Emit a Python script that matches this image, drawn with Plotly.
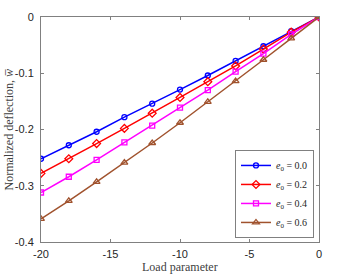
import plotly.graph_objects as go

load = [-20, -18, -16, -14, -12, -10, -8, -6, -4, -2, 0]
w_e00 = [-0.252, -0.228, -0.204, -0.178, -0.154, -0.129, -0.104, -0.078, -0.052, -0.025, 0.0]
w_e02 = [-0.278, -0.252, -0.225, -0.198, -0.171, -0.143, -0.115, -0.087, -0.057, -0.027, 0.0]
w_e04 = [-0.312, -0.284, -0.254, -0.223, -0.193, -0.161, -0.130, -0.097, -0.065, -0.031, 0.0]
w_e06 = [-0.359, -0.327, -0.293, -0.259, -0.224, -0.188, -0.151, -0.114, -0.076, -0.038, 0.0]
labels = ["0.0", "0.2", "0.4", "0.6"]
x_ticks = [-20, -15, -10, -5, 0]
x_ticklabels = ["-20", "-15", "-10", "-5", "0"]
y_ticks = [-0.4, -0.3, -0.2, -0.1, 0]
y_ticklabels = ["-0.4", "-0.3", "-0.2", "-0.1", "0"]
x_title = "Load parameter"
y_title = "Normalized deflection, <i>w\u0305</i>"

series = [w_e00, w_e02, w_e04, w_e06]
colors = ["#0000ff", "#ff0000", "#ff00ff", "#a0522d"]
symbols = ["circle-open", "diamond-open", "square-open", "triangle-up-open"]
sizes = [5, 6, 5, 6]

fig = go.Figure()
for ys, lab, c, s, sz in zip(series, labels, colors, symbols, sizes):
    fig.add_trace(go.Scatter(
        x=load, y=ys, mode="lines+markers",
        name=f"<i>e</i><sub>0</sub> = {lab}",
        line=dict(color=c, width=1.5),
        marker=dict(symbol=s, size=sz, color=c, line=dict(color=c, width=1.3)),
    ))

axis_common = dict(
    showline=True, linecolor="#808080", linewidth=1, mirror="ticks",
    ticks="inside", ticklen=3, tickcolor="#808080", showgrid=False, zeroline=False,
    automargin=False,
    tickfont=dict(family="Liberation Sans, Arial, sans-serif", size=11, color="#262626"),
)
title_font = dict(family="Liberation Serif, Times New Roman, serif", size=12, color="#404040")

fig.update_layout(
    width=341, height=280,
    margin=dict(l=41, r=22, t=17, b=38),
    paper_bgcolor="white", plot_bgcolor="white",
    showlegend=True,
    legend=dict(
        x=0.982, y=0.018, xanchor="right", yanchor="bottom",
        bgcolor="white", bordercolor="#808080", borderwidth=1,
        font=dict(family="Liberation Serif, Times New Roman, serif", size=10, color="#262626"),
        tracegroupgap=0, itemwidth=30,
    ),
    xaxis=dict(range=[-20, 0], tickvals=x_ticks, ticktext=x_ticklabels,
               ticklabelstandoff=2, **axis_common),
    yaxis=dict(range=[-0.4, 0], tickvals=y_ticks, ticktext=y_ticklabels,
               ticklabelstandoff=4, **axis_common),
    annotations=[
        dict(text=x_title, xref="paper", yref="paper", x=0.5, y=0,
             xanchor="center", yanchor="middle", yshift=-25, showarrow=False, font=title_font),
        dict(text=y_title, xref="paper", yref="paper", x=0, y=0.5, textangle=-90,
             xanchor="center", yanchor="middle", xshift=-33, showarrow=False, font=title_font),
    ],
)

fig.write_html("out.html", config={"displayModeBar": False},
               post_script="document.body.style.margin='0';")
